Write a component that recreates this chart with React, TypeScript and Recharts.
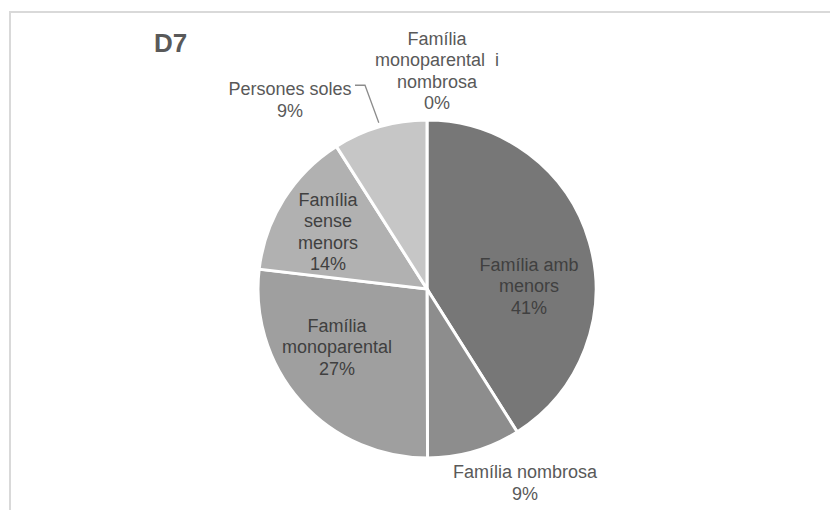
import { PieChart, Pie, Cell } from 'recharts';

const categories = [
  'Família amb menors',
  'Família nombrosa',
  'Família monoparental',
  'Família sense menors',
  'Persones soles',
  'Família monoparental i nombrosa',
];
const shares = [41.0, 8.9, 26.9, 14.1, 9.0, 0];
const percentLabels = ['41%', '9%', '27%', '14%', '9%', '0%'];
const labelLines = [
  ['Família amb', 'menors'],
  ['Família nombrosa'],
  ['Família', 'monoparental'],
  ['Família', 'sense', 'menors'],
  ['Persones soles'],
  ['Família', 'monoparental  i', 'nombrosa'],
];

const colors = ['#777777', '#8d8d8d', '#9f9f9f', '#b1b1b1', '#c6c6c6', '#d4d4d4'];

// label block centre, relative to the pie centre
const labelOffsets = [
  { dx: 102, dy: -3 },
  { dx: 98, dy: 194 },
  { dx: -90, dy: 58 },
  { dx: -99, dy: -57 },
  { dx: -137, dy: -189 },
  { dx: 10, dy: -218 },
];

const data = categories.map((name, i) => ({ name, value: shares[i] }));

const FONT = '"Liberation Sans", Arial, sans-serif';
const LINE_H = 21.5;

function renderLabel(props: any) {
  const { cx, cy, index, outerRadius, midAngle } = props;
  const lines = [...labelLines[index], percentLabels[index]];
  const off = labelOffsets[index];
  const x = cx + off.dx;
  const y0 = cy + off.dy - ((lines.length - 1) * LINE_H) / 2;
  const inside = index !== 1 && index !== 4 && index !== 5;
  let leader = null;
  if (index === 4) {
    const rad = (Math.PI / 180) * midAngle;
    const ex = cx + outerRadius * Math.cos(rad);
    const ey = cy - outerRadius * Math.sin(rad);
    const ly = y0 - 4;
    leader = (
      <polyline
        points={`${x + 65},${ly} ${x + 75},${ly} ${ex - 1},${ey - 4}`}
        fill="none"
        stroke="#8c8c8c"
        strokeWidth={1.3}
      />
    );
  }
  return (
    <g key={`lbl-${index}`}>
      {leader}
      <text
        x={x}
        y={y0}
        textAnchor="middle"
        dominantBaseline="central"
        fontFamily={FONT}
        fontSize={18}
        fill={inside ? '#404040' : '#595959'}
      >
        {lines.map((ln, i) => (
          <tspan key={i} x={x} dy={i === 0 ? 0 : LINE_H} style={{ whiteSpace: 'pre' }}>
            {ln}
          </tspan>
        ))}
      </text>
    </g>
  );
}

export default function App() {
  return (
    <div style={{ position: 'absolute', left: 0, top: 0, width: 830, height: 510, background: '#fff', overflow: 'hidden' }}>
      <div
        style={{
          position: 'absolute',
          left: 9,
          top: 11,
          width: 840,
          height: 520,
          borderLeft: '2px solid #d9d9d9',
          borderTop: '2px solid #d9d9d9',
        }}
      />
      <div
        style={{
          position: 'absolute',
          left: 154,
          top: 28,
          fontFamily: FONT,
          fontWeight: 'bold',
          fontSize: 26,
          color: '#595959',
        }}
      >
        D7
      </div>
      <div style={{ position: 'absolute', left: 0, top: 0 }}>
        <PieChart width={830} height={510} margin={{ top: 0, right: 0, bottom: 0, left: 0 }}>
          <Pie
            data={data}
            dataKey="value"
            nameKey="name"
            cx={427}
            cy={289}
            outerRadius={169}
            startAngle={90}
            endAngle={-270}
            stroke="#ffffff"
            strokeWidth={3}
            label={renderLabel}
            labelLine={false}
            isAnimationActive={false}
          >
            {data.map((d, i) => (
              <Cell key={d.name} fill={colors[i]} />
            ))}
          </Pie>
        </PieChart>
      </div>
    </div>
  );
}
